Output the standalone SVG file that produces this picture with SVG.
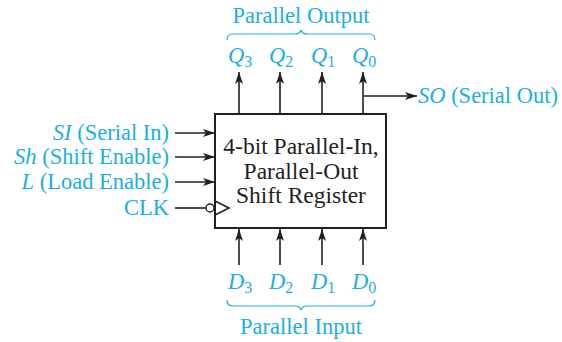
<svg xmlns="http://www.w3.org/2000/svg" width="562" height="342" viewBox="0 0 562 342">
<style>
.t{font-family:"Liberation Serif","Times New Roman",serif;font-size:22.5px;fill:#1aaee6}
.i{font-style:italic}
.s{font-size:16px;font-style:normal}
.b{font-family:"Liberation Serif","Times New Roman",serif;font-size:23.5px;fill:#231f20}
.w{stroke:#231f20;stroke-width:1.6;fill:none}
.br{stroke:#1aaee6;stroke-width:1.2;fill:none}
</style>
<defs>
<marker id="ah" viewBox="0 0 12 8" refX="12" refY="4" markerWidth="12" markerHeight="8" markerUnits="userSpaceOnUse" orient="auto">
<path d="M0,0 L12,4 L0,8 L3,4 Z" fill="#231f20"/>
</marker>
</defs>
<g id="register">
<rect x="215" y="114" width="171" height="114" fill="#fff" stroke="#231f20" stroke-width="2"/>
<polyline points="215,201 229,208 215,215" class="w"/>
<text class="b" text-anchor="middle" x="301" y="154">4-bit Parallel-In,</text>
<text class="b" text-anchor="middle" x="301" y="179">Parallel-Out</text>
<text class="b" text-anchor="middle" x="301" y="203">Shift Register</text>
</g>
<g id="connectors">
<line x1="239" y1="114" x2="239" y2="72" class="w" marker-end="url(#ah)"/>
<line x1="280" y1="114" x2="280" y2="72" class="w" marker-end="url(#ah)"/>
<line x1="322" y1="114" x2="322" y2="72" class="w" marker-end="url(#ah)"/>
<line x1="363" y1="114" x2="363" y2="72" class="w" marker-end="url(#ah)"/>
<polyline points="363,96 417,96" class="w" marker-end="url(#ah)"/>
<line x1="175" y1="133" x2="215" y2="133" class="w" marker-end="url(#ah)"/>
<line x1="175" y1="157" x2="215" y2="157" class="w" marker-end="url(#ah)"/>
<line x1="175" y1="182" x2="215" y2="182" class="w" marker-end="url(#ah)"/>
<line x1="175" y1="208" x2="206" y2="208" class="w"/>
<circle cx="210" cy="208" r="4" fill="#fff" stroke="#231f20" stroke-width="1.4"/>
<line x1="239" y1="265" x2="239" y2="229" class="w" marker-end="url(#ah)"/>
<line x1="280" y1="265" x2="280" y2="229" class="w" marker-end="url(#ah)"/>
<line x1="322" y1="265" x2="322" y2="229" class="w" marker-end="url(#ah)"/>
<line x1="363" y1="265" x2="363" y2="229" class="w" marker-end="url(#ah)"/>
</g>
<g id="outputs">
<text class="t" text-anchor="middle" x="301" y="23">Parallel Output</text>
<path class="br" d="M227,40 Q227,34 233,34 L295,34 Q300,34 301,30 Q302,34 307,34 L369,34 Q375,34 375,40"/>
<text class="t i" text-anchor="middle" x="240" y="63">Q<tspan class="s" dy="4">3</tspan></text>
<text class="t i" text-anchor="middle" x="281" y="63">Q<tspan class="s" dy="4">2</tspan></text>
<text class="t i" text-anchor="middle" x="323" y="63">Q<tspan class="s" dy="4">1</tspan></text>
<text class="t i" text-anchor="middle" x="364" y="63">Q<tspan class="s" dy="4">0</tspan></text>
</g>
<g id="serial-out">
<text class="t" x="418" y="103"><tspan class="i">SO</tspan> (Serial Out)</text>
</g>
<g id="inputs">
<text class="t" text-anchor="end" x="169" y="140"><tspan class="i">SI</tspan> (Serial In)</text>
<text class="t" text-anchor="end" x="169" y="164"><tspan class="i">Sh</tspan> (Shift Enable)</text>
<text class="t" text-anchor="end" x="169" y="189"><tspan class="i">L</tspan> (Load Enable)</text>
<text class="t" text-anchor="end" x="169" y="215">CLK</text>
</g>
<g id="parallel-input">
<text class="t i" text-anchor="middle" x="240" y="289">D<tspan class="s" dy="4">3</tspan></text>
<text class="t i" text-anchor="middle" x="281" y="289">D<tspan class="s" dy="4">2</tspan></text>
<text class="t i" text-anchor="middle" x="323" y="289">D<tspan class="s" dy="4">1</tspan></text>
<text class="t i" text-anchor="middle" x="364" y="289">D<tspan class="s" dy="4">0</tspan></text>
<path class="br" d="M227,300 Q227,306 233,306 L295,306 Q300,306 301,310 Q302,306 307,306 L369,306 Q375,306 375,300"/>
<text class="t" text-anchor="middle" x="301" y="334">Parallel Input</text>
</g>
</svg>
